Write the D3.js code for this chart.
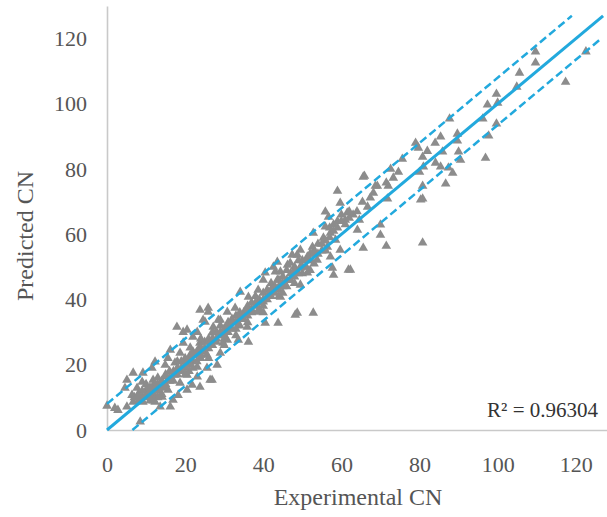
<!DOCTYPE html>
<html>
<head>
<meta charset="utf-8">
<script src="https://cdn.jsdelivr.net/npm/d3@7"></script>
<style>
  body { margin: 0; background: #fff; }
  svg { display: block; }
</style>
</head>
<body>
<div id="chart"></div>
<script>
// experimental vs predicted CN
var experimental = [
  109.7,109.7,105.6,104.9,117.4,122.6,99.7,97.4,100,96.2,99.7,97.7,
  87.7,89.7,85.4,89.7,79.7,85.9,90,96.9,90.5,80.8,84.1,85.4,81,80,87.4,88.5,
  75.6,72.6,74.6,73.3,72,80.8,86.7,65.6,68.7,67.4,71.8,80.8,80.8,84,82,79,
  65.9,59,69.2,71.5,68.2,59.7,65.4,66.7,55.9,56.7,61.5,61,64.1,64.6,70,65.6,
  71.5,55.9,57.2,55.4,58.5,52.8,52.6,56.4,59.7,49.5,47.4,51.3,53.8,57.2,43.6,
  46.2,49.5,57.7,62.3,43.1,51.3,
  80.3,70,58,61.8,48.7,52.8,
  48.7,46.9,49.5,42.6,44.4,40.5,40,43.6,46.9,49.5,42.6,38.7,36.2,41.3,34.1,
  40,44.4,48.2,43.8,35.9,38.5,32.8,30.8,23.8,25.9,25.1,28.5,34.1,31,35.9,40.5,
  20.5,23.1,27.2,30.8,33.6,36.2,23.8,21.3,25.1,29,
  17.9,19.5,27.2,22,27.2,19.5,23.8,16.2,18.7,21.3,25.6,15.6,12.3,14.9,17.4,
  20.5,23.1,25.6,28.2,6.7,9.2,11.5,5.1,9,11.8,14.9,17.4,20.5,23.1,18.7,21.8,
  26.4,4.6,7.7,10.3,12.8,15.6,6.4,9,11.5,14.1,6.7,9.2,12.3,13.6,16.2,16.9,18.2,
  0,2,2.8,8.5,5.1,20.5,23.8,29.7,29,25.9,24.6,26.9,
  8,10,11,12,13,14,10,12,13,15,16,17,16,18,19,19,20,21,22,22,24,24,25,26,26,
  27,28,28,29,30,31,31,32,33,33,34,35,35,36,37,37,38,39,39,40,41,42,42,43,44,
  45,45,46,47,48,50,51,52,53,54,55,56,57,58,59,60,62,63,64,12,11,14,9,7,15,17,
  20,23,27,30,34,36,38,41,44,46,48,49,50,53,45,40,32,29,24,21,18,
  10,11,13,14,15,16,17,18,19,20,21,22,23,24,25,26,27,28,29,30,31,32,33,34,35,
  36,37,38,39,40,41,42,43,44,45,46,47,48,49,50,51,52,53,54,55,56,57,58,59,60,
  61,62,9,8,12,13,20,22,26,30,33,36,40,44,48,52
];
var predicted = [
  116,112.6,109.5,105.2,106.7,116,103,99.7,100.3,95.4,93.9,90.2,
  95.4,90.8,89.9,88.7,86.5,85.3,85.3,83.4,82.8,83.7,81.9,80.7,80.7,79.1,80.4,78.8,
  83.1,80,79.1,77.3,74.8,74.8,75.5,77.6,74.8,71.2,70.9,70.9,57.4,88,85.5,88,
  77.9,73.3,74.8,75.8,72.7,69.6,69.9,68.4,66.9,65.3,66.6,64.4,61.3,64.4,62.9,55.8,
  56.4,62.3,60.4,58.9,58.3,60.4,56.1,56.1,55.2,55.2,53.7,53.1,52.1,53.1,51.5,
  50.6,50,49.7,49.1,48.5,48.2,
  70.6,59.8,47.5,49.1,35.9,35.9,
  53.7,51.2,49.7,50,48.5,48.2,46,46,46,44.5,43.6,42.9,40.8,41.4,42.3,
  39.3,40.8,35.3,32.8,37.4,36.2,37.4,36.2,36.8,36.2,33.1,33.7,34.4,32.2,31.6,32.8,
  30.7,30,29.8,27.6,27.6,27,26.7,25.2,23.9,23.6,
  31.6,30,31.6,28.5,27.6,26.7,25.5,24.5,23.6,23,23,22,20.9,19.9,20.6,
  20.6,19.3,19,19.9,17.5,17.5,19,15.3,14.7,15.3,16.3,16.9,16.9,16.3,14.4,13.8,
  15.3,12.9,12.9,12.9,12.9,12.3,10.7,10.1,10.1,10.1,8.6,8.6,8.6,7.1,7.1,9.2,10.7,
  7.4,6.7,6.1,2.5,7.1,12.3,13.2,26.7,33.7,37.4,33.7,15.3,
  9,11,9,11,12,13,14,14,16,14,15,18,18,17,19,18,22,20,21,24,22,25,27,25,28,
  26,28,30,29,31,30,33,31,33,35,32,34,36,35,37,39,38,40,37,42,43,41,45,44,43,
  45,47,44,48,47,52,50,54,55,57,55,58,62,63,62,64,65,66,67,13,12,11,12,10,17,15,
  19,21,30,29,36,38,41,40,46,49,50,52,48,51,42,38,34,32,28,18,21,
  10,13,10,15,13,16,17,19,21,20,22,23,24,23,25,27,28,27,30,28,32,33,31,34,35,
  37,36,39,39,40,41,43,42,44,44,46,46,49,48,50,52,52,54,54,57,55,59,61,64,66,
  63,67,9,11,9,14,17,19,22,26,29,33,36,41,45,49
];

var fitLine = [[0, 0], [127, 127]];
var upperBand = [[0, 8], [119, 127]];
var lowerBand = [[6.5, 0], [126, 119.5]];

var xTicks = [0, 20, 40, 60, 80, 100, 120];
var yTicks = [0, 20, 40, 60, 80, 100, 120];

var width = 607, height = 517;
var lineColor = "#22a9dd";
var serif = "'Liberation Serif', 'DejaVu Serif', serif";

var svg = d3.select("#chart").append("svg")
  .attr("width", width)
  .attr("height", height);

var x = d3.scaleLinear().domain([0, 128]).range([107, 607]);
var y = d3.scaleLinear().domain([0, 130]).range([430, 6]);

// axes
var xAxis = svg.append("g")
  .attr("transform", "translate(0,430)")
  .call(d3.axisBottom(x).tickValues(xTicks).tickSize(0).tickPadding(26));
var yAxis = svg.append("g")
  .attr("transform", "translate(107,0)")
  .call(d3.axisLeft(y).tickValues(yTicks).tickSize(0).tickPadding(20));

[xAxis, yAxis].forEach(function(g){
  g.select(".domain").attr("stroke", "#c9c9c9").attr("stroke-width", 1.6);
  g.selectAll("text")
    .attr("fill", "#555")
    .style("font-family", serif)
    .style("font-size", "22px");
});

// points
var pts = experimental.map(function(d, i){ return [d, predicted[i]]; });
var tri = d3.symbol().type(d3.symbolTriangle).size(40);
svg.append("g").selectAll("path")
  .data(pts)
  .enter().append("path")
  .attr("d", tri)
  .attr("transform", function(d){ return "translate(" + x(d[0]) + "," + y(d[1]) + ")"; })
  .attr("fill", "#8c8c8c");

// fit and bands
var line = d3.line().x(function(d){ return x(d[0]); }).y(function(d){ return y(d[1]); });
svg.append("path").datum(fitLine)
  .attr("d", line).attr("fill", "none")
  .attr("stroke", lineColor).attr("stroke-width", 3);
[upperBand, lowerBand].forEach(function(b){
  svg.append("path").datum(b)
    .attr("d", line).attr("fill", "none")
    .attr("stroke", lineColor).attr("stroke-width", 2.5)
    .attr("stroke-dasharray", "8,4");
});

// labels
svg.append("text")
  .attr("x", 598).attr("y", 417)
  .attr("text-anchor", "end")
  .attr("fill", "#333")
  .style("font-family", serif).style("font-size", "21px")
  .text("R² = 0.96304");

svg.append("text")
  .attr("x", 358).attr("y", 505)
  .attr("text-anchor", "middle")
  .attr("fill", "#555")
  .style("font-family", serif).style("font-size", "24px")
  .text("Experimental CN");

svg.append("text")
  .attr("transform", "translate(33,236) rotate(-90)")
  .attr("text-anchor", "middle")
  .attr("fill", "#555")
  .style("font-family", serif).style("font-size", "24px")
  .text("Predicted CN");
</script>
</body>
</html>
